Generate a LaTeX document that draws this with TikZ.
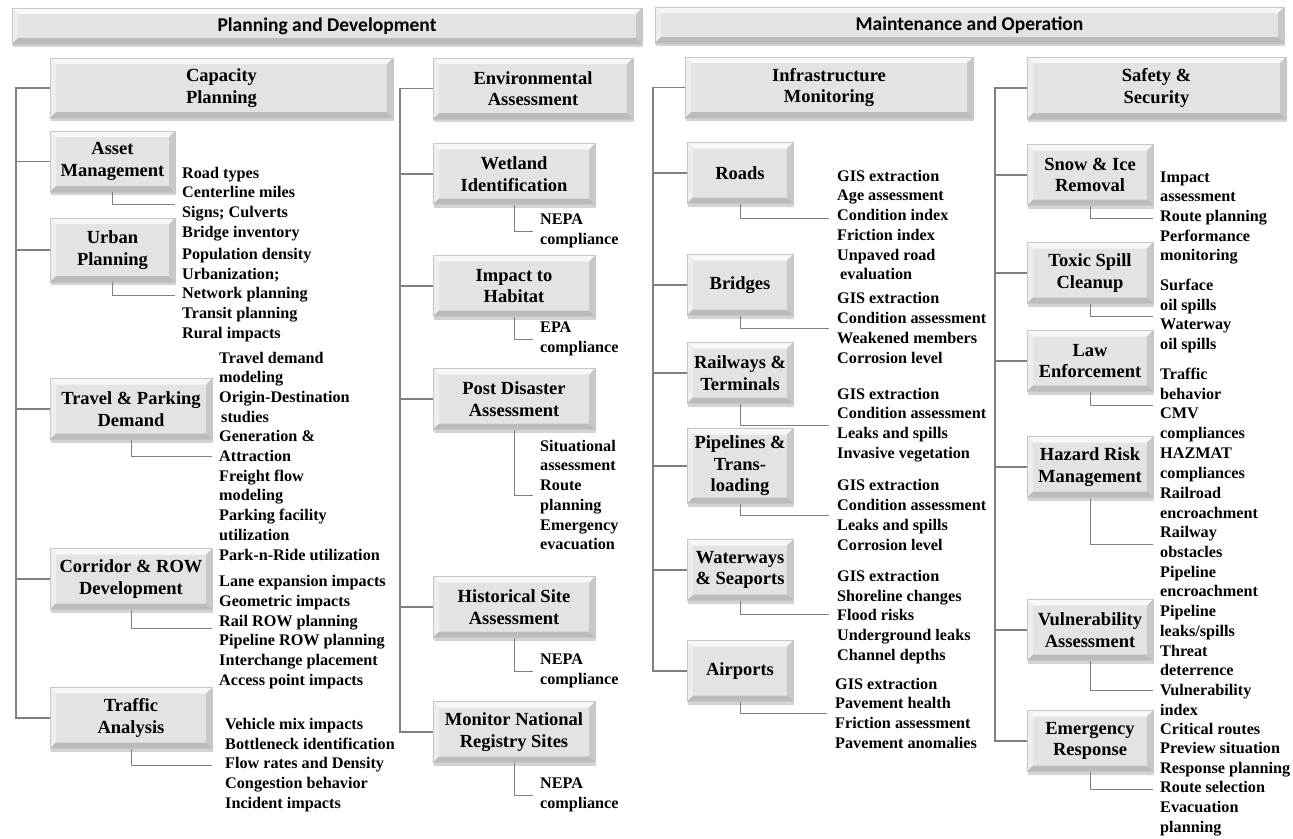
\documentclass[tikz,border=0pt]{standalone}
\usepackage{fontspec}
\setmainfont{Liberation Serif}
\newfontfamily\headfont{Carlito}
\usetikzlibrary{positioning,shadows}
\definecolor{faceGray}{HTML}{E3E3E3}
\definecolor{topGray}{HTML}{F7F7F7}
\definecolor{leftGray}{HTML}{EEEEEE}
\definecolor{rightGray}{HTML}{C8C8C8}
\definecolor{botGray}{HTML}{BBBBBB}
\definecolor{lineGray}{HTML}{808080}
\newcommand\barfont{\headfont\fontsize{19.5}{22}\selectfont\bfseries}
\newcommand\boxfont{\fontsize{18.5}{21.5}\selectfont\bfseries}
\newcommand\leaffont{\fontsize{16.2}{19.7}\selectfont\bfseries}

\begin{document}
\begin{tikzpicture}[x=1pt, y=-1pt,
    bevel/.style={path picture={
      \fill[topGray] (path picture bounding box.north west) -- (path picture bounding box.north east)
        -- ([shift={(-#1,-#1)}]path picture bounding box.north east)
        -- ([shift={(#1,-#1)}]path picture bounding box.north west) -- cycle;
      \fill[leftGray] (path picture bounding box.north west) -- (path picture bounding box.south west)
        -- ([shift={(#1,#1)}]path picture bounding box.south west)
        -- ([shift={(#1,-#1)}]path picture bounding box.north west) -- cycle;
      \fill[rightGray] (path picture bounding box.north east) -- (path picture bounding box.south east)
        -- ([shift={(-#1,#1)}]path picture bounding box.south east)
        -- ([shift={(-#1,-#1)}]path picture bounding box.north east) -- cycle;
      \fill[botGray] (path picture bounding box.south west) -- (path picture bounding box.south east)
        -- ([shift={(-#1,#1)}]path picture bounding box.south east)
        -- ([shift={(#1,#1)}]path picture bounding box.south west) -- cycle;
    }},
    bevel/.default=6pt,
    box/.style={fill=faceGray, draw=black!22, line width=0.4pt, bevel,
      drop shadow={shadow xshift=1pt, shadow yshift=-3pt, opacity=0.35},
      align=center, inner sep=2pt, font=\boxfont},
    bar/.style={box, minimum height=36, font=\barfont, text=black},
    sub/.style={box, minimum height=61},
    leaf/.style={anchor=west, align=left, inner xsep=7pt, inner ysep=0pt, font=\leaffont},
    link/.style={draw=lineGray, line width=1.2pt},
    twig/.style={draw=lineGray, line width=1pt},
  ]
\useasboundingbox (0,0) rectangle (1293,838);

% Top bars
\node[bar, minimum width=630] (plandev) at (327,26) {Planning and Development};
\node[bar, minimum width=629] (mainop) at (969.5,25) {Maintenance and Operation};

% Column heads
\node[box, minimum width=343, minimum height=60] (cap) at (221.5,88) {Capacity\\Planning};
\node[box, minimum width=200, minimum height=61] (env) at (533,88.5) {Environmental\\Assessment};
\node[box, minimum width=288, minimum height=61] (infra) at (829,87.5) {Infrastructure\\Monitoring};
\node[box, minimum width=259, minimum height=62] (safe) at (1156.5,88) {Safety \&\\Security};

% Capacity planning
\node[sub, minimum width=125] (asset) at (112.5,161.5) {Asset\\Management};
\node[sub, minimum width=125, minimum height=64] (urban) at (112.5,250) {Urban\\Planning};
\node[sub, minimum width=162] (travel) at (131,409) {Travel \& Parking\\Demand};
\node[sub, minimum width=162] (corr) at (131,579) {Corridor \& ROW\\Development};
\node[sub, minimum width=162] (traffic) at (131,718) {Traffic\\Analysis};

\node[leaf] (assetleaf) at (175,204) {Road types\\Centerline miles\\Signs; Culverts\\Bridge inventory};
\node[leaf] (urbanleaf) at (175,295) {Population density\\Urbanization;\\Network planning\\Transit planning\\Rural impacts};
\node[leaf] (travelleaf) at (212,456) {Travel demand\\modeling\\Origin-Destination\\\hspace*{2pt}studies\\Generation \&\\Attraction\\Freight flow\\modeling\\Parking facility\\utilization\\Park-n-Ride utilization};
\node[leaf] (corrleaf) at (212,632) {Lane expansion impacts\\Geometric impacts\\Rail ROW planning\\Pipeline ROW planning\\Interchange placement\\Access point impacts};
\node[leaf, inner xsep=13pt] (trafficleaf) at (212,765) {Vehicle mix impacts\\Bottleneck identification\\Flow rates and Density\\Congestion behavior\\Incident impacts};

\coordinate (capspine) at (16,0);
\draw[link] (cap.west) -| (capspine |- traffic.west) -- (traffic.west);
\draw[link] (capspine |- asset.west) -- (asset.west);
\draw[link] (capspine |- urban.west) -- (urban.west);
\draw[link] (capspine |- travel.west) -- (travel.west);
\draw[link] (capspine |- corr.west) -- (corr.west);
\draw[twig] (asset.south) |- (assetleaf.west);
\draw[twig] (urban.south) |- (urbanleaf.west);
\draw[twig] (travel.south) |- (travelleaf.west);
\draw[twig] (corr.south) |- ([yshift=4pt]corrleaf.west);
\draw[twig] (traffic.south) |- (trafficleaf.west);

% Environmental assessment
\node[sub, minimum width=162] (wet) at (514,174) {Wetland\\Identification};
\node[sub, minimum width=162] (hab) at (514,286) {Impact to\\Habitat};
\node[sub, minimum width=162] (post) at (514,399) {Post Disaster\\Assessment};
\node[sub, minimum width=162] (hist) at (514,607) {Historical Site\\Assessment};
\node[sub, minimum width=162] (reg) at (514,732) {Monitor National\\Registry Sites};

\node[leaf] (wetleaf) at (533,231) {NEPA\\compliance};
\node[leaf] (hableaf) at (533,339) {EPA\\compliance};
\node[leaf] (postleaf) at (533,495) {Situational\\assessment\\Route\\planning\\Emergency\\evacuation};
\node[leaf] (histleaf) at (533,671) {NEPA\\compliance};
\node[leaf] (regleaf) at (533,795) {NEPA\\compliance};

\coordinate (envspine) at (400,0);
\draw[link] (env.west) -| (envspine |- reg.west) -- (reg.west);
\draw[link] (envspine |- wet.west) -- (wet.west);
\draw[link] (envspine |- hab.west) -- (hab.west);
\draw[link] (envspine |- post.west) -- (post.west);
\draw[link] (envspine |- hist.west) -- (hist.west);
\draw[twig] (wet.south) |- (wetleaf.west);
\draw[twig] (hab.south) |- (hableaf.west);
\draw[twig] (post.south) |- (postleaf.west);
\draw[twig] (hist.south) |- (histleaf.west);
\draw[twig] (reg.south) |- (regleaf.west);

% Infrastructure monitoring
\node[sub, minimum width=106] (roads) at (740,173) {Roads};
\node[sub, minimum width=106] (bridges) at (740,285) {Bridges};
\node[sub, minimum width=106] (rail) at (740,373) {Railways \&\\Terminals};
\node[sub, minimum width=106, minimum height=75] (pipe) at (740,466) {Pipelines \&\\Trans-\\loading};
\node[sub, minimum width=106] (water) at (740,570) {Waterways\\\& Seaports};
\node[sub, minimum width=106] (air) at (740,671) {Airports};

\node[leaf, inner xsep=8pt] (roadleaf) at (829,225) {GIS extraction\\Age assessment\\Condition index\\Friction index\\Unpaved road\\\hspace*{3pt}evaluation};
\node[leaf, inner xsep=8pt] (bridgeleaf) at (829,328) {GIS extraction\\Condition assessment\\Weakened members\\Corrosion level};
\node[leaf, inner xsep=8pt] (railleaf) at (829,425) {GIS extraction\\Condition assessment\\Leaks and spills\\Invasive vegetation};
\node[leaf, inner xsep=8pt] (pipeleaf) at (829,515) {GIS extraction\\Condition assessment\\Leaks and spills\\Corrosion level};
\node[leaf, inner xsep=8pt] (waterleaf) at (829,617) {GIS extraction\\Shoreline changes\\Flood risks\\Underground leaks\\Channel depths};
\node[leaf, inner xsep=8pt] (airleaf) at (827,713) {GIS extraction\\Pavement health\\Friction assessment\\Pavement anomalies};

\coordinate (infraspine) at (653,0);
\draw[link] (infra.west) -| (infraspine |- air.west) -- (air.west);
\draw[link] (infraspine |- roads.west) -- (roads.west);
\draw[link] (infraspine |- bridges.west) -- (bridges.west);
\draw[link] (infraspine |- rail.west) -- (rail.west);
\draw[link] (infraspine |- pipe.west) -- (pipe.west);
\draw[link] (infraspine |- water.west) -- (water.west);
\draw[twig] (roads.south) |- ([yshift=7pt]roadleaf.west);
\draw[twig] (bridges.south) |- (bridgeleaf.west);
\draw[twig] (rail.south) |- (railleaf.west);
\draw[twig] (pipe.south) |- (pipeleaf.west);
\draw[twig] (water.south) |- ([yshift=3pt]waterleaf.west);
\draw[twig] (air.south) |- (airleaf.west);

% Safety & security
\node[sub, minimum width=126] (snow) at (1090,175) {Snow \& Ice\\Removal};
\node[sub, minimum width=126] (toxic) at (1090,273) {Toxic Spill\\Cleanup};
\node[sub, minimum width=126] (law) at (1090,361) {Law\\Enforcement};
\node[sub, minimum width=126] (hazard) at (1090,467) {Hazard Risk\\Management};
\node[sub, minimum width=126] (vuln) at (1090,630) {Vulnerability\\Assessment};
\node[sub, minimum width=126] (emerg) at (1090,741) {Emergency\\Response};

\node[leaf] (snowleaf) at (1153,218) {Impact\\assessment\\Route planning\\Performance\\monitoring};
\node[leaf] (toxicleaf) at (1153,316) {Surface\\oil spills\\Waterway\\oil spills};
\node[leaf] (lawleaf) at (1153,405) {Traffic\\behavior\\CMV\\compliances};
\node[leaf] (hazleaf) at (1153,544) {HAZMAT\\compliances\\Railroad\\encroachment\\Railway\\obstacles\\Pipeline\\encroachment\\Pipeline\\leaks/spills};
\node[leaf] (vulnleaf) at (1153,690) {Threat\\deterrence\\Vulnerability\\index\\Critical routes};
\node[leaf] (emergleaf) at (1153,789) {Preview situation\\Response planning\\Route selection\\Evacuation\\planning};

\coordinate (safespine) at (995,0);
\draw[link] (safe.west) -| (safespine |- emerg.west) -- (emerg.west);
\draw[link] (safespine |- snow.west) -- (snow.west);
\draw[link] (safespine |- toxic.west) -- (toxic.west);
\draw[link] (safespine |- law.west) -- (law.west);
\draw[link] (safespine |- hazard.west) -- (hazard.west);
\draw[link] (safespine |- vuln.west) -- (vuln.west);
\draw[twig] (snow.south) |- (snowleaf.west);
\draw[twig] (toxic.south) |- (toxicleaf.west);
\draw[twig] (law.south) |- (lawleaf.west);
\draw[twig] (hazard.south) |- (hazleaf.west);
\draw[twig] (vuln.south) |- (vulnleaf.west);
\draw[twig] (emerg.south) |- (emergleaf.west);

\end{tikzpicture}
\end{document}
